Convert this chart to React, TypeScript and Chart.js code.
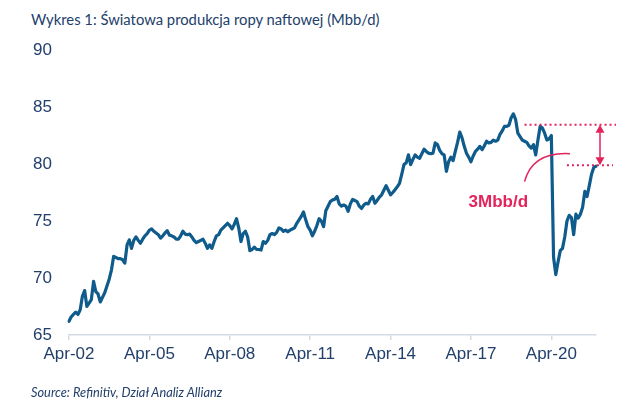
import React, { useEffect, useRef } from "react";
import { Chart, registerables } from "chart.js";

Chart.register(...registerables);

// ---- Data ----
const titleText = "Wykres 1: Światowa produkcja ropy naftowej (Mbb/d)";
const sourceText = "Source: Refinitiv, Dział Analiz Allianz";

const startYear = 2002;
const startMonthIndex = 3; // April
const monthNames = ["Jan", "Feb", "Mar", "Apr", "May", "Jun", "Jul", "Aug", "Sep", "Oct", "Nov", "Dec"];
const shownTicks = ["Apr-02", "Apr-05", "Apr-08", "Apr-11", "Apr-14", "Apr-17", "Apr-20"];
const yMin = 65;
const yMax = 90;
const yStep = 5;

// World oil production, Mbb/d, monthly from Apr-02 to Dec-21
const production = [
  // 2002 Apr-Dec
  66.2, 66.6, 66.8, 67.0, 66.8, 67.2, 68.4, 68.9, 67.5,
  // 2003
  67.8, 68.1, 69.7, 68.8, 68.6, 67.9, 68.3, 68.7, 69.3, 69.9, 70.7, 71.9,
  // 2004
  71.8, 71.7, 71.7, 71.6, 71.3, 72.9, 73.35, 72.6, 73.3, 73.6, 73.3, 73.05,
  // 2005
  73.4, 73.7, 73.9, 74.2, 74.3, 74.1, 73.95, 73.8, 73.5, 73.7, 73.95, 74.15,
  // 2006
  73.75, 73.7, 73.6, 73.4, 73.4, 73.7, 74.1, 73.85, 73.8, 73.85, 73.6, 73.3,
  // 2007
  73.1, 73.2, 73.3, 73.4, 73.05, 72.6, 72.9, 72.6, 73.2, 73.7, 73.8, 74.2,
  // 2008
  74.4, 74.6, 74.8, 74.6, 74.3, 74.7, 75.2, 74.4, 73.2, 73.9, 74.1, 73.6,
  // 2009
  72.4, 72.5, 72.7, 72.5, 72.5, 72.45, 73.2, 73.05, 73.3, 73.8, 73.9, 73.8,
  // 2010
  74.0, 74.4, 74.3, 74.1, 74.2, 74.05, 74.2, 74.3, 74.4, 74.8, 75.1, 75.4,
  // 2011
  75.8, 75.1, 74.5, 74.2, 73.7, 74.1, 74.6, 75.2, 75.0, 74.5, 75.9, 76.3,
  // 2012
  76.7, 76.85, 76.9, 77.15, 76.5, 76.3, 76.4, 76.3, 75.85, 76.5, 76.9, 76.8,
  // 2013
  76.7, 76.3, 76.1, 76.4, 76.55, 76.5, 76.9, 77.15, 76.55, 76.8, 77.1, 77.3,
  // 2014
  77.7, 78.1, 77.7, 77.3, 77.5, 77.75, 78.0, 78.3, 79.1, 79.95, 80.1, 80.8,
  // 2015
  79.95, 80.4, 80.8, 80.6, 80.5, 80.9, 81.3, 81.1, 80.95, 80.9, 80.95, 81.85,
  // 2016
  81.7, 81.2, 80.9, 80.8, 79.35, 80.2, 80.6, 80.3, 81.1, 81.9, 82.8, 82.3,
  // 2017
  81.55, 80.95, 80.6, 80.2, 80.7, 81.1, 81.3, 81.55, 81.25, 81.6, 82.0, 81.85,
  // 2018
  81.9, 82.1, 82.0, 82.1, 82.6, 82.9, 83.3, 83.3, 83.4, 84.05, 84.4, 83.9,
  // 2019
  82.7, 82.4, 82.1, 82.0, 81.9, 81.6, 81.4, 81.7, 80.8, 82.1, 83.3, 83.15,
  // 2020
  82.7, 82.1, 82.2, 82.5, 71.8, 70.3, 71.4, 72.4, 72.6, 73.6, 75.0, 75.5,
  // 2021
  75.3, 73.8, 75.6, 75.25, 75.6, 76.2, 77.6, 77.15, 78.1, 79.1, 79.7, 79.8,
];

// Annotation: pre-pandemic level vs current level
const preCovidLevel = 83.45;
const currentLevel = 79.9;
const gapLabel = "3Mbb/d";
const preCovidLineFrom = "Apr-19";
const currentLineFrom = "Nov-20";

const categories = production.map((_, i) => {
  const mm = startMonthIndex + i;
  const m = mm % 12;
  const y = startYear + Math.floor(mm / 12);
  return `${monthNames[m]}-${String(y % 100).padStart(2, "0")}`;
});

const NAVY = "#22406b";
const LINE = "#0f5b8c";
const PINK = "#e2245c";

const annotationPlugin = {
  id: "gapAnnotation",
  afterDraw(chart: any) {
    const { ctx, scales, chartArea } = chart;
    const xs = scales.x;
    const ys = scales.y;
    const yTop = ys.getPixelForValue(preCovidLevel);
    const yBot = ys.getPixelForValue(currentLevel);
    const xTopStart = xs.getPixelForValue(categories.indexOf(preCovidLineFrom));
    const xBotStart = xs.getPixelForValue(categories.indexOf(currentLineFrom));
    const xEnd = chartArea.right + 20;
    const xArrow = chartArea.right + 4;
    ctx.save();
    // dotted lines
    ctx.strokeStyle = PINK;
    ctx.lineWidth = 2;
    ctx.setLineDash([2, 3]);
    ctx.beginPath();
    ctx.moveTo(xTopStart, yTop);
    ctx.lineTo(xEnd, yTop);
    ctx.moveTo(xBotStart, yBot);
    ctx.lineTo(xEnd - 3, yBot);
    ctx.stroke();
    ctx.setLineDash([]);
    // double arrow
    ctx.lineWidth = 1.5;
    ctx.beginPath();
    ctx.moveTo(xArrow, yTop + 6);
    ctx.lineTo(xArrow, yBot - 6);
    ctx.stroke();
    ctx.fillStyle = PINK;
    ctx.beginPath();
    ctx.moveTo(xArrow, yTop);
    ctx.lineTo(xArrow - 4.5, yTop + 8);
    ctx.lineTo(xArrow + 4.5, yTop + 8);
    ctx.closePath();
    ctx.fill();
    ctx.beginPath();
    ctx.moveTo(xArrow, yBot);
    ctx.lineTo(xArrow - 4.5, yBot - 8);
    ctx.lineTo(xArrow + 4.5, yBot - 8);
    ctx.closePath();
    ctx.fill();
    // curved leader
    const cx0 = xTopStart;
    const cy0 = ys.getPixelForValue(78.45);
    const cx1 = xBotStart + 3;
    const cy1 = ys.getPixelForValue(80.9);
    ctx.lineWidth = 1.5;
    ctx.beginPath();
    ctx.moveTo(cx0, cy0);
    ctx.quadraticCurveTo(cx0 + 8, cy1 - 2, cx1, cy1);
    ctx.stroke();
    // label
    ctx.font = "bold 17px 'Liberation Sans', Arial, sans-serif";
    ctx.textBaseline = "middle";
    ctx.textAlign = "left";
    ctx.fillText(gapLabel, cx0 - 56, ys.getPixelForValue(76.6));
    ctx.restore();
  },
};

export default function App() {
  const canvasRef = useRef<HTMLCanvasElement | null>(null);

  useEffect(() => {
    if (!canvasRef.current) return;
    const chart = new Chart(canvasRef.current, {
      type: "line",
      data: {
        labels: categories,
        datasets: [
          {
            data: production,
            borderColor: LINE,
            borderWidth: 3.2,
            pointRadius: 0,
            tension: 0,
            borderJoinStyle: "round",
            borderCapStyle: "round",
            fill: false,
          },
        ],
      },
      options: {
        animation: false,
        responsive: false,
        maintainAspectRatio: false,
        layout: { padding: { left: 0, right: 44, top: 50, bottom: 28 } },
        plugins: {
          legend: { display: false },
          tooltip: { enabled: false },
          title: { display: false },
        },
        scales: {
          x: {
            type: "category",
            grid: {
              display: true,
              drawOnChartArea: false,
              drawTicks: true,
              tickLength: 5,
              color: "#d3dbe6",
              lineWidth: 1.5,
            },
            border: { display: true, color: "#d3dbe6", width: 1.5 },
            ticks: {
              autoSkip: false,
              maxRotation: 0,
              minRotation: 0,
              padding: 4,
              color: NAVY,
              font: { family: "'Liberation Sans', Arial, sans-serif", size: 17 },
              callback: (_v: any, idx: number) =>
                shownTicks.includes(categories[idx]) ? categories[idx] : null,
            },
            afterFit: (scale: any) => {
              scale.height = 40;
            },
          },
          y: {
            min: yMin,
            max: yMax,
            grid: { display: false, drawTicks: false },
            border: { display: false },
            ticks: {
              stepSize: yStep,
              padding: 17,
              color: NAVY,
              font: { family: "'Liberation Sans', Arial, sans-serif", size: 17 },
            },
            afterFit: (scale: any) => {
              scale.width = 69;
            },
          },
        },
      },
      plugins: [annotationPlugin],
    } as any);
    return () => chart.destroy();
  }, []);

  return (
    <div style={{ position: "fixed", left: 0, top: 0, width: 640, height: 403, background: "#fff" }}>
      <div
        style={{
          position: "absolute",
          left: 31,
          top: 10,
          fontFamily: "Lato, 'Open Sans', sans-serif",
          fontSize: 14.8,
          color: NAVY,
          whiteSpace: "nowrap",
        }}
      >
        {titleText}
      </div>
      <canvas ref={canvasRef} width={640} height={403} style={{ position: "absolute", left: 0, top: 0 }} />
      <div
        style={{
          position: "absolute",
          left: 31,
          top: 384,
          fontFamily: "Lato, 'Open Sans', sans-serif",
          fontStyle: "italic",
          fontSize: 12.8,
          color: NAVY,
          whiteSpace: "nowrap",
        }}
      >
        {sourceText}
      </div>
    </div>
  );
}
